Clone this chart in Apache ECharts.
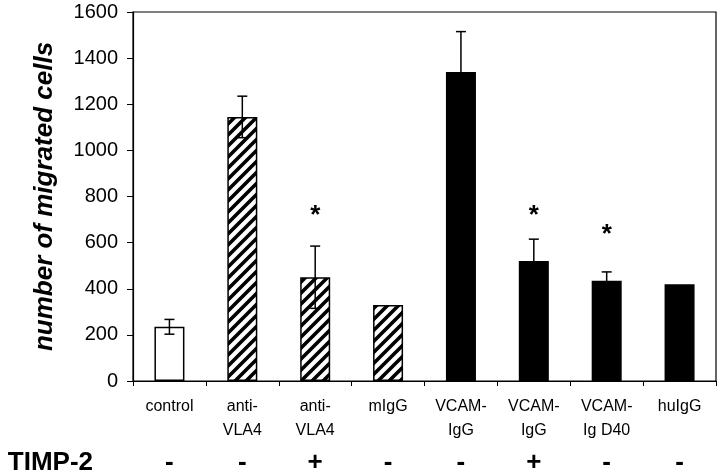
<!DOCTYPE html>
<html><head><meta charset="utf-8">
<script src="https://cdn.jsdelivr.net/npm/echarts@6/dist/echarts.min.js"></script>
<style>html,body{margin:0;padding:0;background:#fff}#c{width:720px;height:476px}</style>
</head><body><div id="c"></div>
<script>
var categories = ['control', 'anti-\nVLA4', 'anti-\nVLA4', 'mIgG', 'VCAM-\nIgG', 'VCAM-\nIgG', 'VCAM-\nIg D40', 'huIgG'];
var timp2 = ['-', '-', '+', '-', '-', '+', '-', '-'];
var values = [235, 1145, 450, 330, 1340, 520, 435, 420];
var errors = [32, 90, 135, 0, 175, 95, 38, 0];
var fillType = ['open', 'hatch', 'hatch', 'hatch', 'solid', 'solid', 'solid', 'solid'];
var starLevel = [null, null, 740, null, null, 740, 655, null];
var yTicks = { min: 0, max: 1600, interval: 200 };

var pc = document.createElement('canvas');
pc.width = 11; pc.height = 11;
var g = pc.getContext('2d');
g.fillStyle = '#fff'; g.fillRect(0, 0, 11, 11);
g.strokeStyle = '#000'; g.lineWidth = 3.6;
g.beginPath();
g.moveTo(-2, 13); g.lineTo(13, -2);
g.moveTo(-8, 8); g.lineTo(8, -8);
g.moveTo(3, 19); g.lineTo(19, 3);
g.stroke();

function fillFor(t) {
  if (t === 'open') return '#fff';
  if (t === 'solid') return '#000';
  return { image: pc, repeat: 'repeat' };
}

var barData = values.map(function (v, i) {
  return { value: v, itemStyle: { color: fillFor(fillType[i]), borderColor: '#000', borderWidth: 1.5 } };
});
var errData = values.map(function (v, i) { return [i, v, errors[i], starLevel[i] == null ? -1 : starLevel[i]]; });

var chart = echarts.init(document.getElementById('c'));
chart.setOption({
  animation: false,
  backgroundColor: '#fff',
  grid: { left: 133, right: 4, top: 12, bottom: 94, show: true, borderColor: '#000', borderWidth: 1.2 },
  xAxis: [{
    type: 'category', data: categories, position: 'bottom',
    axisLine: { lineStyle: { color: '#000', width: 1.2 } },
    axisTick: { show: true, length: 5, lineStyle: { color: '#000' } },
    axisLabel: { color: '#000', fontFamily: 'Liberation Sans, Arial', fontSize: 16, lineHeight: 24, margin: 14, interval: 0 }
  }, {
    type: 'category', data: timp2, position: 'bottom', offset: 82,
    axisLine: { show: false }, axisTick: { show: false },
    axisLabel: { color: '#000', fontFamily: 'Liberation Sans, Arial', fontSize: 26, fontWeight: 'bold', margin: 0, verticalAlign: 'middle', interval: 0 },
    name: 'TIMP-2', nameLocation: 'start', nameGap: 40,
    nameTextStyle: { color: '#000', fontFamily: 'Liberation Sans, Arial', fontSize: 26, fontWeight: 'bold', verticalAlign: 'middle' }
  }],
  yAxis: {
    type: 'value', min: yTicks.min, max: yTicks.max, interval: yTicks.interval,
    splitLine: { show: false },
    axisLine: { show: true, lineStyle: { color: '#000', width: 1.2 } },
    axisTick: { show: true, length: 6, lineStyle: { color: '#000' } },
    axisLabel: { color: '#000', fontFamily: 'Liberation Sans, Arial', fontSize: 20, margin: 15, formatter: function (v) { return String(v); } },
    name: 'number of migrated cells', nameLocation: 'middle', nameGap: 75,
    nameTextStyle: { color: '#000', fontFamily: 'Liberation Sans, Arial', fontSize: 26, fontWeight: 'bold', fontStyle: 'italic' }
  },
  series: [{
    type: 'bar', data: barData, barWidth: 30, xAxisIndex: 0
  }, {
    type: 'custom', xAxisIndex: 0, z: 5,
    data: errData,
    renderItem: function (params, api) {
      var x = api.value(0), v = api.value(1), e = api.value(2), s = api.value(3);
      var top = api.coord([x, v + e]);
      var bot = api.coord([x, v - e]);
      var children = [];
      var st = { stroke: '#000', lineWidth: 1.5 };
      if (e > 0) {
        children.push({ type: 'line', shape: { x1: top[0], y1: top[1], x2: bot[0], y2: bot[1] }, style: st });
        children.push({ type: 'line', shape: { x1: top[0] - 5, y1: top[1], x2: top[0] + 5, y2: top[1] }, style: st });
        children.push({ type: 'line', shape: { x1: bot[0] - 5, y1: bot[1], x2: bot[0] + 5, y2: bot[1] }, style: st });
      }
      if (s >= 0) {
        var sp = api.coord([x, s]);
        children.push({ type: 'text', style: { text: '*', x: sp[0], y: sp[1] + 5, fill: '#000', font: 'bold 26px Liberation Sans, Arial', align: 'center', verticalAlign: 'middle' } });
      }
      return { type: 'group', children: children };
    }
  }]
});
</script></body></html>
